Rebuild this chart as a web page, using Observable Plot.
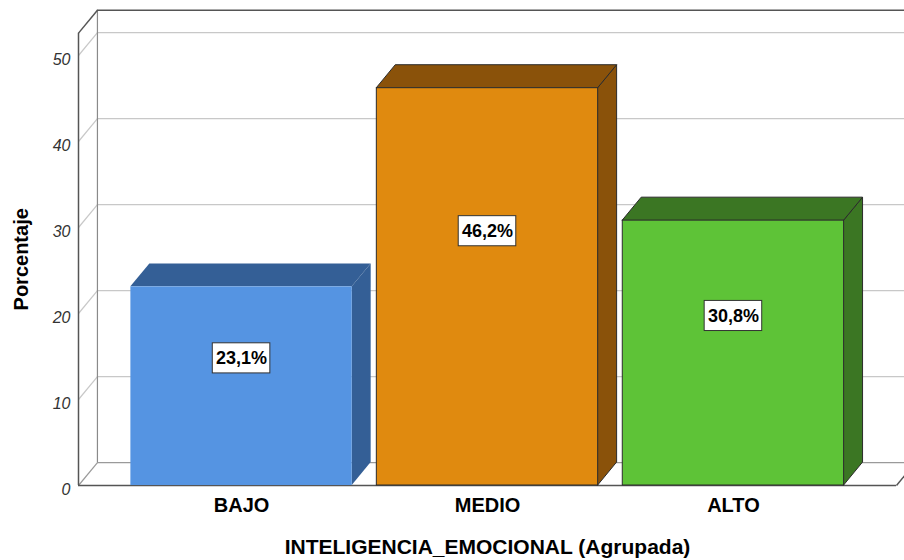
<!DOCTYPE html>
<html><head><meta charset="utf-8">
<script src="https://cdn.jsdelivr.net/npm/d3@7"></script>
<script src="https://cdn.jsdelivr.net/npm/@observablehq/plot@0.6"></script>
<style>body{margin:0;background:#fff} #chart svg{display:block}</style>
</head><body><div id="chart"></div>
<script>
const categories = ["BAJO", "MEDIO", "ALTO"];
const percentages = [23.1, 46.2, 30.8];
const valueLabels = ["23,1%", "46,2%", "30,8%"];
const yTicks = [0, 10, 20, 30, 40, 50];
const xTitle = "INTELIGENCIA_EMOCIONAL (Agrupada)";
const yTitle = "Porcentaje";
const frontColors = ["#5594e2", "#e08a0f", "#5ec337"];
const sideColors = ["#345f96", "#8a520a", "#3b7623"];
const edgeColors = ["none", "#2b2b2b", "#2b2b2b"];

// layout constants (in scale units)
const XMIN = -0.663, XMAX = 2.663, YTOP = 52.6, DX = 0.077, DY = 2.67, HALF = 0.45, XFAR = 3.3;
const LF = 0.64, BW = 0.117, BH = 1.75;

const bars = categories.map((c, i) => ({i, c, v: percentages[i], label: valueLabels[i],
  front: frontColors[i], side: sideColors[i], edge: edgeColors[i]}));
const sidePts = bars.flatMap(b => [
  {bar: b.c, x: b.i + HALF, y1: 0, y2: b.v, fill: b.side, edge: b.edge},
  {bar: b.c, x: b.i + HALF + DX, y1: DY, y2: b.v + DY, fill: b.side, edge: b.edge}
]);
const topPts = bars.flatMap(b => [
  {bar: b.c, y: b.v, x1: b.i - HALF, x2: b.i + HALF, fill: b.side, edge: b.edge},
  {bar: b.c, y: b.v + DY, x1: b.i - HALF + DX, x2: b.i + HALF + DX, fill: b.side, edge: b.edge}
]);
const gridTicks = yTicks.filter(t => t > 0);

const chart = Plot.plot({
  width: 904, height: 560,
  marginLeft: 78, marginRight: 8, marginTop: 33, marginBottom: 75,
  x: {type: "linear", domain: [XMIN, XMAX], range: [78, 896], axis: null},
  y: {domain: [0, 50], range: [485, 55], axis: null},
  color: {type: "identity"},
  style: {fontFamily: "'Liberation Sans', Arial, sans-serif", background: "white", color: "#000"},
  marks: [
    // left wall white fill
    // back wall gridlines
    Plot.ruleY(gridTicks, {y: d => d + DY, x1: XMIN + DX, x2: XFAR, stroke: "#c8c8c8", strokeWidth: 1.2}),
    // left wall gridline diagonals
    Plot.link(gridTicks, {x1: XMIN, y1: d => d, x2: XMIN + DX, y2: d => d + DY, stroke: "#c8c8c8", strokeWidth: 1.2}),
    // floor back edge & left floor diagonal
    Plot.ruleY([DY], {x1: XMIN + DX, x2: XFAR, stroke: "#9a9a9a", strokeWidth: 1.2}),
    Plot.link([0], {x1: XMIN, y1: 0, x2: XMIN + DX, y2: DY, stroke: "#9a9a9a", strokeWidth: 1.2}),
    // back wall left vertical
    Plot.ruleX([XMIN + DX], {y1: DY, y2: YTOP + DY, stroke: "#8a8a8a", strokeWidth: 1.2}),
    // back wall top edge
    Plot.ruleY([YTOP + DY], {x1: XMIN + DX, x2: XFAR, stroke: "#555", strokeWidth: 1.5}),
    // top-left diagonal
    Plot.link([0], {x1: XMIN, y1: YTOP, x2: XMIN + DX, y2: YTOP + DY, stroke: "#555", strokeWidth: 1.5}),
    // front left axis
    Plot.ruleX([XMIN], {y1: 0, y2: YTOP, stroke: "#555", strokeWidth: 1.5}),
    // floor front edge & right diagonal
    Plot.ruleY([0], {x1: XMIN, x2: XMAX, stroke: "#555", strokeWidth: 1.5}),
    Plot.link([0], {x1: XMAX, y1: 0, x2: XMAX + DX, y2: DY, stroke: "#555", strokeWidth: 1.5}),
    // bars: side, top, front
    Plot.areaY(sidePts, {x: "x", y1: "y1", y2: "y2", z: "bar", fill: "fill", stroke: "edge", strokeWidth: 1}),
    Plot.areaX(topPts, {y: "y", x1: "x1", x2: "x2", z: "bar", fill: "fill", stroke: "edge", strokeWidth: 1}),
    Plot.rect(bars, {x1: b => b.i - HALF, x2: b => b.i + HALF, y1: 0, y2: "v", fill: "front", stroke: "edge", strokeWidth: 1}),
    // value labels
    Plot.rect(bars, {x1: b => b.i - BW, x2: b => b.i + BW, y1: b => b.v * LF - BH, y2: b => b.v * LF + BH,
      fill: "white", stroke: "#333", strokeWidth: 1}),
    Plot.text(bars, {x: "i", y: b => b.v * LF, text: "label", fontWeight: "bold", fontSize: 18, fill: "#000"}),
    // y tick labels
    Plot.text(yTicks, {x: XMIN, y: d => d, text: d => String(d), textAnchor: "end", dx: -8, dy: 4,
      fontStyle: "italic", fontSize: 16, fill: "#333"}),
    // category labels
    Plot.text(bars, {x: "i", y: 0, text: "c", dy: 20, fontWeight: "bold", fontSize: 20, fill: "#000"}),
    // axis titles
    Plot.text([xTitle], {x: 1, y: 0, text: d => d, dy: 62, fontWeight: "bold", fontSize: 21, fill: "#000"}),
    Plot.text([yTitle], {x: XMIN, y: YTOP / 2, text: d => d, dx: -57, rotate: -90, fontWeight: "bold", fontSize: 20, fill: "#000"})
  ]
});
document.getElementById("chart").append(chart);
</script>
</body></html>
